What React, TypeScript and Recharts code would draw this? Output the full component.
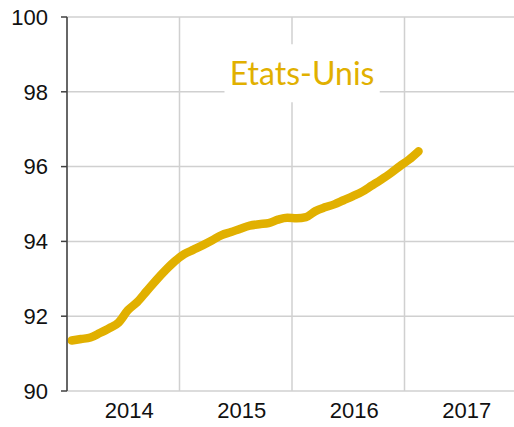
import React from "react";
import {
  LineChart,
  Line,
  XAxis,
  YAxis,
  CartesianGrid,
  ReferenceArea,
} from "recharts";

// Monthly observations (Jan 2014 .. Feb 2017)
const months = [
  "2014-01", "2014-02", "2014-03", "2014-04", "2014-05", "2014-06",
  "2014-07", "2014-08", "2014-09", "2014-10", "2014-11", "2014-12",
  "2015-01", "2015-02", "2015-03", "2015-04", "2015-05", "2015-06",
  "2015-07", "2015-08", "2015-09", "2015-10", "2015-11", "2015-12",
  "2016-01", "2016-02", "2016-03", "2016-04", "2016-05", "2016-06",
  "2016-07", "2016-08", "2016-09", "2016-10", "2016-11", "2016-12",
  "2017-01", "2017-02",
];

const usValues = [
  91.35, 91.39, 91.43, 91.55, 91.68, 91.83, 92.16, 92.38, 92.67, 92.96,
  93.23, 93.47, 93.66, 93.78, 93.9, 94.03, 94.17, 94.25, 94.34, 94.42,
  94.46, 94.49, 94.58, 94.63, 94.62, 94.65, 94.81, 94.91, 94.99, 95.1,
  95.21, 95.33, 95.49, 95.65, 95.82, 96.01, 96.19, 96.41,
];

const yearBoundaries = [2014, 2015, 2016, 2017, 2018];
const yearLabels = [2014, 2015, 2016, 2017];
const yTicks = [90, 92, 94, 96, 98, 100];
const seriesName = "Etats-Unis";

// mid-month decimal time
const data = months.map((m, i) => {
  const [y, mo] = m.split("-").map(Number);
  return { month: m, t: y + (mo - 0.5) / 12, v: usValues[i] };
});

const GOLD = "#E1B000";
const AXIS = "#404040";
const GRID = "#d0d0d0";
const FONT = "'Liberation Sans', Arial, sans-serif";

export default function App() {
  return (
    <div
      style={{
        position: "fixed",
        left: 0,
        top: 0,
        width: 514,
        height: 427,
        overflow: "hidden",
        background: "#fff",
      }}
    >
      <LineChart
        width={530}
        height={427}
        data={data}
        margin={{ top: 17, right: 13, bottom: 0, left: 0 }}
      >
        <CartesianGrid xAxisId="b" stroke={GRID} strokeWidth={1.5} />
        <XAxis
          xAxisId="b"
          type="number"
          dataKey="t"
          domain={[2014, 2018]}
          ticks={yearBoundaries}
          height={0}
          tickSize={8}
          tickFormatter={() => ""}
          axisLine={{ stroke: AXIS, strokeWidth: 1.5 }}
          tickLine={{ stroke: AXIS, strokeWidth: 1.5 }}
          allowDataOverflow
        />
        <XAxis
          xAxisId="l"
          type="number"
          dataKey="t"
          domain={[2014, 2018]}
          ticks={yearLabels.map((y) => y + 0.5)}
          tickFormatter={(v: number) => String(Math.floor(v))}
          height={36}
          axisLine={false}
          tickLine={false}
          tickSize={0}
          tickMargin={11}
          tick={{ fontSize: 22, fill: "#111", fontFamily: FONT, dx: 6 }}
          allowDataOverflow
        />
        <YAxis
          type="number"
          domain={[90, 100]}
          ticks={yTicks}
          width={67}
          tickSize={6}
          tickMargin={13}
          axisLine={{ stroke: AXIS, strokeWidth: 1.5 }}
          tickLine={{ stroke: AXIS, strokeWidth: 1.5 }}
          tick={{ fontSize: 22, fill: "#111", fontFamily: FONT }}
          allowDataOverflow
        />
        <ReferenceArea
          xAxisId="b"
          x1={2015.4}
          x2={2016.78}
          y1={97.72}
          y2={99.27}
          fill="#fff"
          fillOpacity={1}
          stroke="none"
          label={{
            value: seriesName,
            position: "center",
            fill: GOLD,
            fontSize: 32,
            fontFamily: "Lato, 'Open Sans', sans-serif",
          }}
        />
        <Line
          xAxisId="b"
          type="monotone"
          dataKey="v"
          stroke={GOLD}
          strokeWidth={8.5}
          strokeLinecap="round"
          strokeLinejoin="round"
          dot={false}
          isAnimationActive={false}
        />
      </LineChart>
    </div>
  );
}
